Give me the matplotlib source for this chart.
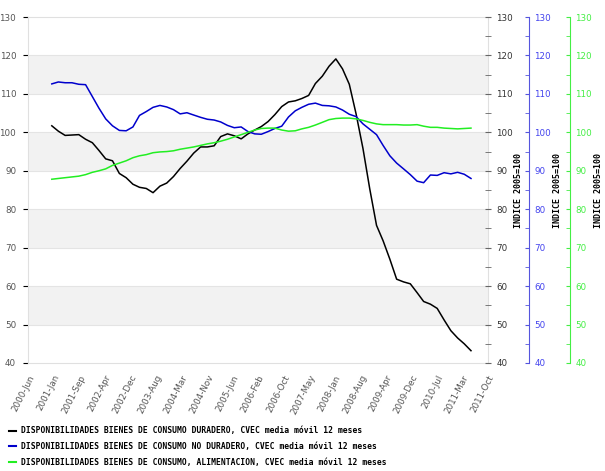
import numpy as np
import pandas as pd
import matplotlib
matplotlib.use('Agg')
import matplotlib.pyplot as plt
import matplotlib.dates as mdates
from matplotlib.lines import Line2D
from matplotlib.ticker import MultipleLocator

# fechas: cada 2 meses, 2001-ene .. 2011-may
fechas = pd.date_range('2001-01-01', periods=63, freq='2MS')

duradero = [101.7, 100.3, 99.2, 99.3, 99.4, 98.2, 97.3, 95.3, 93.1, 92.6,
            89.3, 88.2, 86.5, 85.7, 85.4, 84.3, 86.0, 86.8, 88.5, 90.6,
            92.5, 94.6, 96.2, 96.2, 96.5, 98.9, 99.6, 99.1, 98.3, 99.6,
            100.6, 101.5, 102.8, 104.6, 106.7, 107.9, 108.2, 108.8, 109.6, 112.7,
            114.6, 117.2, 119.1, 116.5, 112.5, 104.8, 95.8, 85.3, 75.8, 71.8,
            67.0, 61.8, 61.1, 60.6, 58.3, 56.0, 55.3, 54.2, 51.2, 48.4,
            46.5, 45.0, 43.2]

no_duradero = [112.6, 113.1, 112.9, 112.9, 112.5, 112.4, 109.3, 106.3, 103.5, 101.7,
               100.5, 100.4, 101.4, 104.4, 105.4, 106.5, 107.0, 106.6, 105.9, 104.8,
               105.1, 104.5, 103.9, 103.4, 103.2, 102.7, 101.8, 101.2, 101.4, 100.2,
               99.6, 99.5, 100.2, 101.0, 101.6, 104.0, 105.6, 106.5, 107.3, 107.6,
               107.0, 106.9, 106.6, 105.8, 104.7, 104.1, 102.2, 100.8, 99.4, 96.6,
               93.9, 92.0, 90.5, 89.0, 87.3, 86.9, 88.9, 88.8, 89.5, 89.2,
               89.6, 89.1, 88.0]

alimentacion = [87.8, 88.0, 88.2, 88.4, 88.6, 89.0, 89.6, 90.0, 90.5, 91.4,
                92.0, 92.6, 93.4, 93.9, 94.2, 94.7, 94.9, 95.0, 95.2, 95.6,
                95.9, 96.2, 96.6, 97.0, 97.3, 97.7, 98.2, 98.8, 99.4, 100.0,
                100.6, 101.0, 101.1, 101.1, 100.6, 100.3, 100.4, 100.9, 101.3, 101.9,
                102.6, 103.3, 103.6, 103.7, 103.7, 103.5, 103.1, 102.6, 102.2, 102.0,
                102.0, 102.0, 101.9, 101.9, 102.0, 101.6, 101.3, 101.3, 101.1, 101.0,
                100.9, 101.0, 101.1]

etiquetas_x = ['2000-Jun', '2001-Jan', '2001-Sep', '2002-Apr', '2002-Dec', '2003-Aug',
               '2004-Mar', '2004-Nov', '2005-Jun', '2006-Feb', '2006-Oct', '2007-May',
               '2008-Jan', '2008-Aug', '2009-Apr', '2009-Dec', '2010-Jul', '2011-Mar',
               '2011-Oct']

nombres = ['DISPONIBILIDADES BIENES DE CONSUMO DURADERO, CVEC media móvil 12 meses',
           'DISPONIBILIDADES BIENES DE CONSUMO NO DURADERO, CVEC media móvil 12 meses',
           'DISPONIBILIDADES BIENES DE CONSUMO, ALIMENTACION, CVEC media móvil 12 meses']
colores = ['#000000', '#0000cc', '#22ee22']

x = mdates.date2num(fechas)
x0 = mdates.date2num(pd.Timestamp('2000-06-01'))
x1 = mdates.date2num(pd.Timestamp('2011-10-01'))

fig = plt.figure(figsize=(6.05, 4.71), dpi=100)
ax = fig.add_axes([0.0463, 0.2293, 0.7603, 0.7346])

# bandas de fondo
for y in range(40, 130, 10):
    if (y // 10) % 2 == 1:
        ax.axhspan(y, y + 10, color='#f2f2f2', lw=0, zorder=0)
for y in range(50, 130, 10):
    ax.axhline(y, color='#e4e4e4', lw=0.8, zorder=0.5)

for serie, col in zip([duradero, no_duradero, alimentacion], colores):
    ax.plot(x, serie, color=col, lw=1.1, zorder=3)

ax.set_xlim(x0, x1)
ax.set_ylim(40, 130)
ax.yaxis.set_major_locator(MultipleLocator(10))
ax.tick_params(axis='y', left=False, labelsize=6.3, labelcolor='#555555', pad=5)
ax.set_xticks(np.linspace(x0, x1, len(etiquetas_x)))
ax.set_xticklabels(etiquetas_x, rotation=63, ha='right', rotation_mode='anchor',
                   fontsize=6.3, color='#555555')
ax.tick_params(axis='x', bottom=False, pad=4)
for s in ax.spines.values():
    s.set_color('#e0e0e0')

etiqueta_y = 'INDICE 2005=100'
fuente = {'family': 'DejaVu Sans Mono', 'weight': 'bold', 'size': 6}

def eje_derecho(pos, color, tcolor, spine_visible):
    a = ax.twinx()
    a.set_ylim(40, 130)
    a.yaxis.set_major_locator(MultipleLocator(10))
    a.yaxis.set_minor_locator(MultipleLocator(5))
    a.spines['right'].set_position(('axes', pos))
    a.spines['right'].set_visible(spine_visible)
    a.spines['right'].set_color(color)
    for k in ['left', 'top', 'bottom']:
        a.spines[k].set_visible(False)
    if spine_visible:
        a.tick_params(axis='y', which='both', direction='in', length=3,
                      color=color, labelcolor=tcolor, labelsize=6.3, pad=4)
    else:
        a.tick_params(axis='y', which='both', direction='inout', length=4,
                      color='#666666', labelcolor=tcolor, labelsize=6.3, pad=4)
    a.set_ylabel(etiqueta_y, fontdict=fuente, labelpad=1)
    return a

eje_derecho(1.0, '#666666', '#333333', False)
eje_derecho(1.089, '#5555dd', '#4444ee', True)
eje_derecho(1.178, '#44ee44', '#44ee44', True)

manejadores = [Line2D([], [], color=c, lw=1.5) for c in colores]
fig.legend(manejadores, nombres, loc='upper left', bbox_to_anchor=(0.003, 0.11),
           frameon=False, handlelength=0.9, handletextpad=0.6, labelspacing=0.85,
           prop={'family': 'DejaVu Sans Mono', 'weight': 'bold', 'size': 5.8})

plt.savefig('out.png', dpi=100)
